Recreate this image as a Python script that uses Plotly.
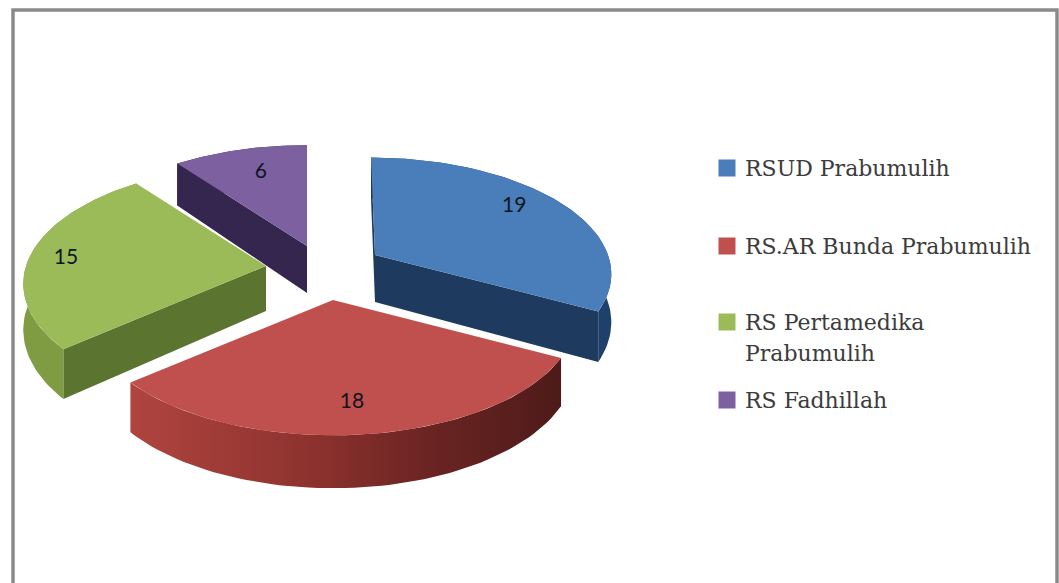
import math
import plotly.graph_objects as go

# --- data ---
categories = ["RSUD Prabumulih", "RS.AR Bunda Prabumulih", "RS Pertamedika<br>Prabumulih", "RS Fadhillah"]
values = [19, 18, 15, 6]

# --- style / layout ---
top_colors = ["#4a7ebb", "#c0504d", "#9bbb59", "#7c60a0"]
wall_colors = ["#1f3a5f", "#5a1f1d", "#5b7530", "#35264f"]
rim_colors = ["#20406c", None, "#7f9c42", "#35264f"]
red_rim_scale = [[0, "#b0443f"], [0.4, "#8f332f"], [0.7, "#6a2422"], [1, "#4d1b19"]]
apex = [(375, 255), (333, 300), (266, 266), (307, 246)]
radius_x = [233, 240, 240, 240]
radius_y = [112, 115, 116, 116]
depth = [47, 45, 45, 47]
shear = [-4, 0, 0, 0]
walls_end = [True, False, False, False]
walls_start = [True, False, True, True]
label_reach = [0.74, 0.75, 0.85, 0.72]
label_shift = [(1, -8), (-3, 6), (0, 3), (4, -1)]
K = 0.15
draw_order = [3, 0, 2, 1]

legend_y = [168, 246, 322, 400]
LINE_GAP = 31
SWATCH_X, TEXT_X = 727, 743


def project(i, theta, r=1.0, drop=False):
    X, Y = r * math.sin(theta), r * math.cos(theta)
    w = 1 + K * Y
    px = apex[i][0] + X * radius_x[i] / w + shear[i] * Y
    py = apex[i][1] - Y * radius_y[i] / w
    if drop:
        py += depth[i] / w
    return px, py


total = sum(values)
angles = [0.0]
for v in values:
    angles.append(angles[-1] + 2 * math.pi * v / total)

fig = go.Figure()


def poly(points, color, gradient=None):
    xs = [p[0] for p in points] + [points[0][0]]
    ys = [p[1] for p in points] + [points[0][1]]
    kw = dict(fillgradient=dict(type="horizontal", colorscale=gradient)) if gradient else dict(fillcolor=color)
    fig.add_trace(go.Scatter(x=xs, y=ys, mode="lines", fill="toself", line=dict(width=0),
                             hoverinfo="skip", showlegend=False, **kw))


for i in draw_order:
    a0, a1 = angles[i], angles[i + 1]
    n = 60
    thetas = [a0 + (a1 - a0) * k / n for k in range(n + 1)]
    arc = [project(i, t) for t in thetas]
    arc_low = [project(i, t, drop=True) for t in thetas]
    # outer rim
    poly(arc + arc_low[::-1], rim_colors[i], red_rim_scale if rim_colors[i] is None else None)
    # cut walls
    ap = project(i, 0, 0)
    ap_low = project(i, 0, 0, drop=True)
    if walls_end[i]:
        poly([ap, project(i, a1), project(i, a1, drop=True), ap_low], wall_colors[i])
    if walls_start[i]:
        poly([ap, project(i, a0), project(i, a0, drop=True), ap_low], wall_colors[i])
    # top face
    poly([ap] + arc, top_colors[i])

# value labels
for i, v in enumerate(values):
    mid = (angles[i] + angles[i + 1]) / 2
    px, py = project(i, mid, label_reach[i])
    fig.add_trace(go.Scatter(x=[px + label_shift[i][0]], y=[py + label_shift[i][1]], mode="text", text=[str(v)],
                             textposition="middle center", showlegend=False, hoverinfo="skip",
                             textfont=dict(family="Lato, Noto Sans", size=21, color="#0e1620")))

# legend
for i, c in enumerate(categories):
    fig.add_trace(go.Scatter(x=[SWATCH_X], y=[legend_y[i]], mode="markers",
                             marker=dict(symbol="square", size=17, color=top_colors[i]),
                             showlegend=False, hoverinfo="skip"))
    for j, line in enumerate(c.split("<br>")):
        fig.add_annotation(x=TEXT_X, y=legend_y[i] + j * LINE_GAP, xref="x", yref="y", text=line, showarrow=False,
                           xanchor="left", yanchor="middle", align="left",
                           font=dict(family="DejaVu Serif", size=22, color="#3c3c3c"))

# frame (no bottom edge)
fig.add_trace(go.Scatter(x=[13, 13, 1057, 1057], y=[583, 10, 10, 583], mode="lines",
                         line=dict(color="#8a8a8a", width=3.5), showlegend=False, hoverinfo="skip"))

fig.update_layout(width=1059, height=583, margin=dict(l=0, r=0, t=0, b=0),
                  paper_bgcolor="white", plot_bgcolor="white", showlegend=False,
                  xaxis=dict(range=[0, 1059], visible=False, fixedrange=True),
                  yaxis=dict(range=[583, 0], visible=False, fixedrange=True))

fig.write_html("out.html", config=dict(displayModeBar=False),
               post_script="document.body.style.margin='0';document.body.style.overflow='hidden';")
